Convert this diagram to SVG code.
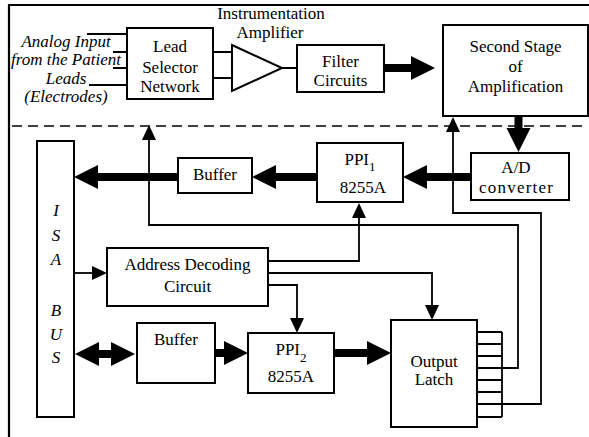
<svg xmlns="http://www.w3.org/2000/svg" width="589" height="437" viewBox="0 0 589 437">
<style>
.box{fill:#fff;stroke:#000;stroke-width:2}
.t{font-family:"Liberation Serif","Times New Roman",serif;font-size:17px;text-anchor:middle;fill:#000}
.it{font-style:italic}
.ln{fill:none;stroke:#000;stroke-width:1.8}
.thick{fill:none;stroke:#000;stroke-width:8}
</style>
<defs>
<marker id="big" markerUnits="userSpaceOnUse" markerWidth="24" markerHeight="24" viewBox="0 0 24 24" refX="1" refY="12" orient="auto" overflow="visible"><path d="M0,0 L24,12 L0,24 z" fill="#000"/></marker>
<marker id="bigS" markerUnits="userSpaceOnUse" markerWidth="24" markerHeight="24" viewBox="0 0 24 24" refX="1" refY="12" orient="auto-start-reverse" overflow="visible"><path d="M0,0 L24,12 L0,24 z" fill="#000"/></marker>
<marker id="sm" markerUnits="userSpaceOnUse" markerWidth="15" markerHeight="14" viewBox="0 0 15 14" refX="1" refY="7" orient="auto" overflow="visible"><path d="M0,0 L15,7 L0,14 z" fill="#000"/></marker>
</defs>
<rect width="589" height="437" fill="#fff"/>
<!-- frame -->
<g id="frame">
<path d="M8,5 H589 M9,5 V437" fill="none" stroke="#000" stroke-width="2.2"/>
<path d="M12,126 H582" fill="none" stroke="#000" stroke-width="1.6" stroke-dasharray="10 6"/>
</g>
<g id="connectors">
<path class="ln" d="M87,34 H127 M113,52 H127 M113,68 H127 M89,85 H127"/>
<path class="ln" d="M213,52 H232 M213,78 H232 M282,68 H297"/>
<path class="thick" d="M384,68 H412" marker-end="url(#big)"/>
<path class="thick" d="M518.5,116 V129" marker-end="url(#big)"/>
<path class="thick" d="M471,177 H426" marker-end="url(#big)"/>
<path class="thick" d="M317,177 H275" marker-end="url(#big)"/>
<path class="thick" d="M178,177 H97" marker-end="url(#big)"/>
<path class="thick" d="M98,354 H112" marker-start="url(#bigS)" marker-end="url(#bigS)"/>
<path class="thick" d="M215,353 H225" marker-end="url(#big)"/>
<path class="thick" d="M334,353 H368" marker-end="url(#big)"/>
<path class="ln" d="M74,273 H93" marker-end="url(#sm)"/>
<path class="ln" d="M268,261 H359 V217" marker-end="url(#sm)"/>
<path class="ln" d="M268,273 H432 V306" marker-end="url(#sm)"/>
<path class="ln" d="M268,285 H297 V319" marker-end="url(#sm)"/>
<path class="ln" d="M475,368 H518 V225 H149 V139" marker-end="url(#sm)"/>
<path class="ln" d="M475,404 H541 V213 H453 V131" marker-end="url(#sm)"/>
<path class="ln" d="M477,332 H502 M477,344 H502 M477,356 H502 M477,368 H502 M477,380 H502 M477,392 H502 M477,404 H502 M477,417 H502 M502,332 V417"/>
</g>
<g id="inputs">
<text class="t it" x="66" y="47">Analog Input</text>
<text class="t it" x="66" y="65">from the Patient</text>
<text class="t it" x="66" y="84">Leads</text>
<text class="t it" x="66" y="102">(Electrodes)</text>
</g>
<g id="lead-selector">
<rect class="box" x="127" y="28" width="86" height="71"/>
<text class="t" x="170" y="52">Lead</text>
<text class="t" x="170" y="73">Selector</text>
<text class="t" x="170" y="92">Network</text>
</g>
<g id="instrumentation-amplifier">
<polygon class="box" points="232,45 282,68 232,91"/>
<text class="t" x="271" y="19">Instrumentation</text>
<text class="t" x="270" y="38">Amplifier</text>
</g>
<g id="filter">
<rect class="box" x="297" y="45" width="87" height="47"/>
<text class="t" x="340.5" y="67">Filter</text>
<text class="t" x="340.5" y="86">Circuits</text>
</g>
<g id="second-stage">
<rect class="box" x="443" y="25" width="145" height="91" stroke-width="2.4"/>
<text class="t" x="515.5" y="52">Second Stage</text>
<text class="t" x="515.5" y="72">of</text>
<text class="t" x="515.5" y="92">Amplification</text>
</g>
<g id="ad-converter">
<rect class="box" x="471" y="153" width="98" height="47"/>
<text class="t" x="516" y="173">A/D</text>
<text class="t" x="516" y="193" textLength="74" lengthAdjust="spacing">converter</text>
</g>
<g id="ppi1">
<rect class="box" x="317" y="143" width="86" height="59"/>
<text class="t" x="360" y="165">PPI<tspan font-size="13" dy="6">1</tspan></text>
<text class="t" x="363" y="193" font-size="16">8255A</text>
</g>
<g id="buffer1">
<rect class="box" x="178" y="158" width="74" height="35"/>
<text class="t" x="215" y="180">Buffer</text>
</g>
<g id="isa-bus">
<rect class="box" x="37" y="141" width="37" height="276"/>
<text class="t it" x="56" y="216">I</text>
<text class="t it" x="56" y="241">S</text>
<text class="t it" x="56" y="265">A</text>
<text class="t it" x="56" y="316">B</text>
<text class="t it" x="56" y="340">U</text>
<text class="t it" x="56" y="363">S</text>
</g>
<g id="address-decoding">
<rect class="box" x="107" y="248" width="161" height="58"/>
<text class="t" x="187.5" y="270">Address Decoding</text>
<text class="t" x="187.5" y="292">Circuit</text>
</g>
<g id="buffer2">
<rect class="box" x="137" y="323" width="78" height="60"/>
<text class="t" x="176" y="345">Buffer</text>
</g>
<g id="ppi2">
<rect class="box" x="248" y="333" width="86" height="60"/>
<text class="t" x="291" y="355">PPI<tspan font-size="13" dy="7">2</tspan></text>
<text class="t" x="291" y="382" font-size="16">8255A</text>
</g>
<g id="output-latch">
<rect class="box" x="391" y="320" width="86" height="107"/>
<text class="t" x="434" y="367">Output</text>
<text class="t" x="434" y="385">Latch</text>
</g>
</svg>
